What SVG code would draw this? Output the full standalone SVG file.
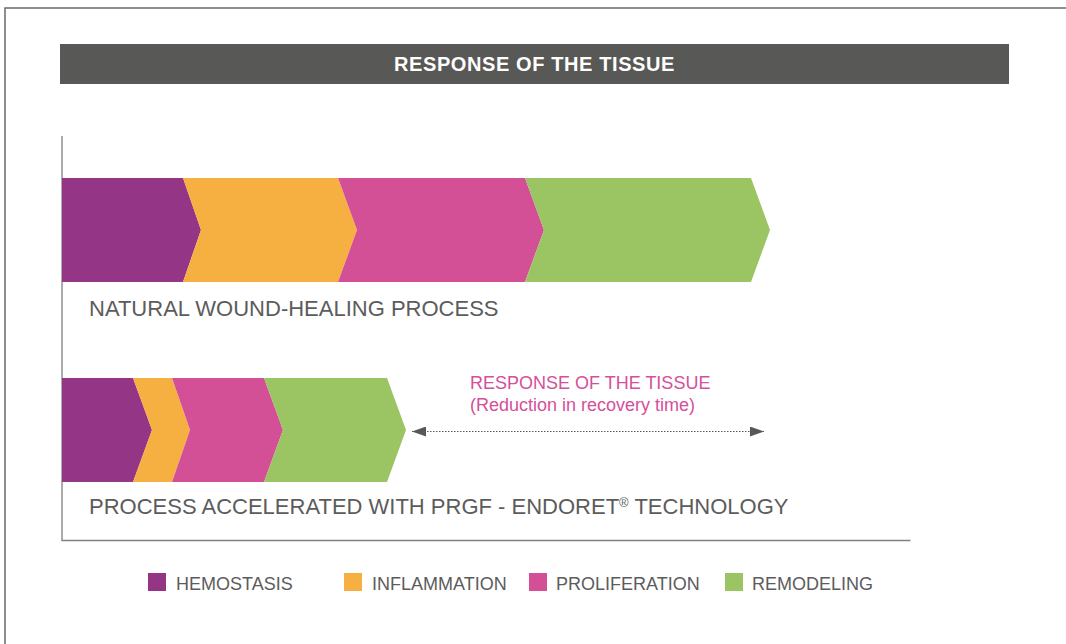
<svg xmlns="http://www.w3.org/2000/svg" width="1066" height="644" viewBox="0 0 1066 644">
  <defs>
    <style>
      .txt { font-family: "Liberation Sans", Arial, sans-serif; }
      .lbl { font-size: 22px; fill: #5c5c5c; }
      .leg { font-size: 18px; fill: #5c5c5c; }
      .pink { font-size: 18px; fill: #d4509a; }
      .hem { fill: #943585; }
      .inf { fill: #f5b041; }
      .pro { fill: #d35096; }
      .rem { fill: #9bc463; }
      .axis { stroke: #808080; stroke-width: 1.3; fill: none; }
    </style>
    <marker id="ah" viewBox="0 0 14 10" refX="14" refY="5" markerWidth="14" markerHeight="10" markerUnits="userSpaceOnUse" orient="auto-start-reverse">
      <polygon points="0,0 14,5 0,10" fill="#585858"/>
    </marker>
  </defs>
  <rect width="1066" height="644" fill="#ffffff"/>
  <g id="frame">
    <polyline points="5,644 5,8 1066,8" fill="none" stroke="#6a6a6a" stroke-width="1.5"/>
  </g>
  <g id="header">
    <rect x="60" y="44" width="949" height="40" fill="#585856"/>
    <text class="txt" x="534.5" y="71" text-anchor="middle" font-size="20" font-weight="bold" letter-spacing="0.6" fill="#ffffff">RESPONSE OF THE TISSUE</text>
  </g>
  <g id="axes">
    <polyline class="axis" points="62,136 62,540.5 910.5,540.5"/>
  </g>
  <g id="natural-process">
    <polygon class="hem" points="62,178 183,178 201,230 183,282 62,282"/>
    <polygon class="inf" points="183,178 338,178 357,230 338,282 183,282 201,230"/>
    <polygon class="pro" points="338,178 525,178 544,230 525,282 338,282 357,230"/>
    <polygon class="rem" points="525,178 751,178 770,230 751,282 525,282 544,230"/>
    <text class="txt lbl" x="89" y="316">NATURAL WOUND-HEALING PROCESS</text>
  </g>
  <g id="accelerated-process">
    <polygon class="hem" points="62,378 133,378 152,430 133,482 62,482"/>
    <polygon class="inf" points="133,378 172,378 190,430 172,482 133,482 152,430"/>
    <polygon class="pro" points="172,378 264,378 283,430 264,482 172,482 190,430"/>
    <polygon class="rem" points="264,378 387,378 406,430 387,482 264,482 283,430"/>
    <text class="txt lbl" x="89" y="514">PROCESS ACCELERATED WITH PRGF - ENDORET<tspan font-size="13" dy="-7">®</tspan><tspan dy="7"> TECHNOLOGY</tspan></text>
  </g>
  <g id="response-label">
    <text class="txt pink" x="470" y="389">RESPONSE OF THE TISSUE</text>
    <text class="txt pink" x="470" y="411">(Reduction in recovery time)</text>
  </g>
  <g id="connectors">
    <line x1="412" y1="431.5" x2="764" y2="431.5" stroke="#585858" stroke-width="1" stroke-dasharray="1.5,1.5" marker-start="url(#ah)" marker-end="url(#ah)"/>
  </g>
  <g id="legend">
    <g id="legend-hemostasis">
      <rect class="hem" x="148" y="573" width="18" height="18"/>
      <text class="txt leg" x="176" y="590">HEMOSTASIS</text>
    </g>
    <g id="legend-inflammation">
      <rect class="inf" x="344" y="573" width="18" height="18"/>
      <text class="txt leg" x="372" y="590">INFLAMMATION</text>
    </g>
    <g id="legend-proliferation">
      <rect class="pro" x="529" y="573" width="18" height="18"/>
      <text class="txt leg" x="556" y="590">PROLIFERATION</text>
    </g>
    <g id="legend-remodeling">
      <rect class="rem" x="725" y="573" width="18" height="18"/>
      <text class="txt leg" x="752" y="590">REMODELING</text>
    </g>
  </g>
</svg>
